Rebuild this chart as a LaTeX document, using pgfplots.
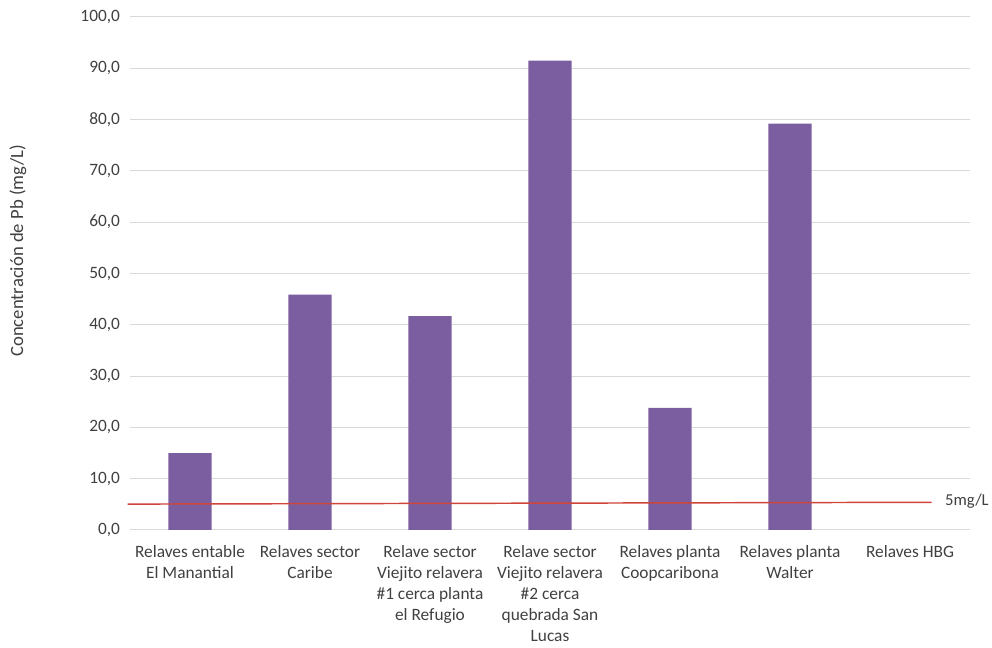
\documentclass[border=0pt]{standalone}
\usepackage{pgfplots}
\pgfplotsset{compat=1.18}
\usepackage{fontspec}
\setmainfont{Carlito}
\definecolor{barc}{HTML}{7B5EA0}
\definecolor{txt}{HTML}{404040}
\definecolor{gridc}{HTML}{D9D9D9}
\definecolor{redl}{HTML}{D0453A}
\begin{document}
\begin{tikzpicture}[x=1pt,y=1pt]
\path[use as bounding box] (-97.5pt,-88.5pt) rectangle (646.5pt,397.5pt);
\begin{axis}[
  at={(0,0)}, anchor=south west,
  scale only axis,
  width=630pt, height=384.75pt,
  xmin=-0.5, xmax=6.5,
  ymin=0, ymax=100,
  ytick={0,10,...,100},
  yticklabel={\pgfmathprintnumber[fixed,fixed zerofill,precision=1,use comma]{\tick}},
  /pgf/number format/assume math mode=true,
  xtick={0,1,2,3,4,5,6},
  xticklabels={
    {Relaves entable\\El Manantial},
    {Relaves sector\\Caribe},
    {Relave sector\\Viejito relavera\\\#1 cerca planta\\el Refugio},
    {Relave sector\\Viejito relavera\\\#2 cerca\\quebrada San\\Lucas},
    {Relaves planta\\Coopcaribona},
    {Relaves planta\\Walter},
    {Relaves HBG}},
  xticklabel style={align=center, font=\fontsize{13}{15.8}\selectfont, text=txt, anchor=north, yshift=-8pt},
  yticklabel style={font=\fontsize{13}{15}\selectfont, text=txt, xshift=-4pt},
  axis line style={draw=none},
  major tick length=0pt,
  ymajorgrids,
  grid style={gridc, line width=0.75pt},
  ylabel={Concentración de Pb (mg/L)},
  ylabel style={font=\fontsize{14}{16}\selectfont, text=txt, at={(axis description cs:0,0.544)}, yshift=84pt, anchor=center},
  clip=false,
]
\addplot[ybar, bar width=0.36, fill=barc, draw=none] coordinates {
  (0,15.0) (1,45.9) (2,41.7) (3,91.5) (4,23.8) (5,79.2)
};
\addplot[redl, line width=1.1pt] coordinates {(-0.52,5.05) (6.18,5.4)};
\node[anchor=west, text=txt, font=\fontsize{12.5}{15}\selectfont, inner sep=0pt] at (axis cs:6.29,5.6) {5mg/L};
\end{axis}
\end{tikzpicture}
\end{document}
